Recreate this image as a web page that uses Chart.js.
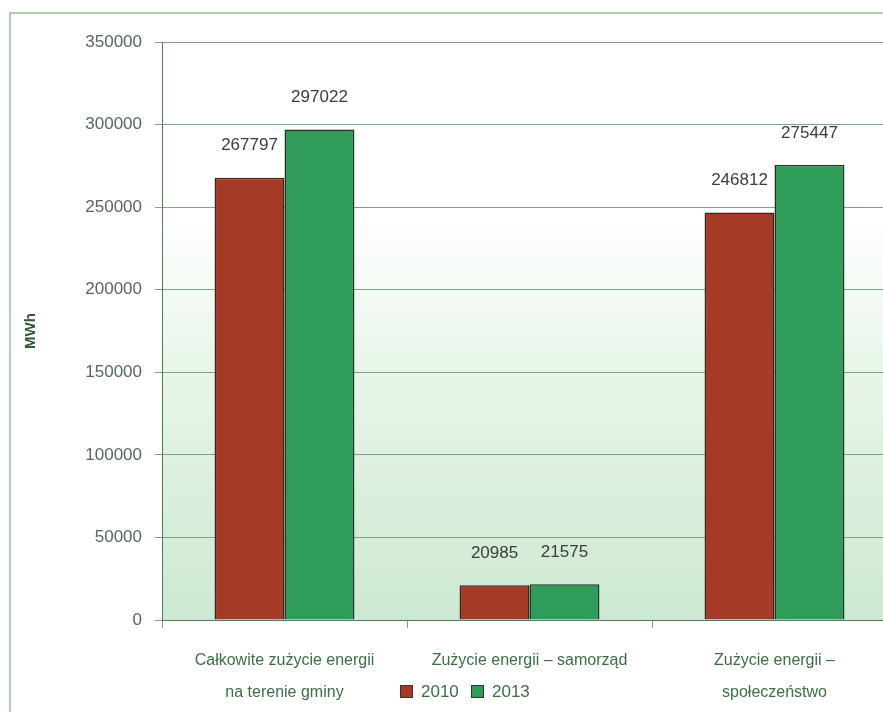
<!DOCTYPE html>
<html>
<head>
<meta charset="utf-8">
<script src="https://cdn.jsdelivr.net/npm/chart.js@4.4.1/dist/chart.umd.min.js"></script>
<style>
  html, body { margin: 0; padding: 0; background: #ffffff; overflow: hidden; }
  #wrap { width: 883px; height: 712px; overflow: hidden; position: relative; }
  #c { position: absolute; left: 0; top: 0; }
</style>
</head>
<body>
<div id="wrap"><canvas id="c" width="910" height="712"></canvas></div>
<script>
// Energy consumption (MWh) by area, 2010 vs 2013
const categories = [
  ["Całkowite zużycie energii", "na terenie gminy"],
  "Zużycie energii – samorząd",
  ["Zużycie energii –", "społeczeństwo"]
];
const seriesNames = ["2010", "2013"];
const values2010 = [267797, 20985, 246812];
const values2013 = [297022, 21575, 275447];
const yTicks = [0, 50000, 100000, 150000, 200000, 250000, 300000, 350000];

const FONT = "'Liberation Sans', Arial, sans-serif";
const RED = "#a53a27";
const GREEN = "#2f9c5a";
const TEXT = "#3b6e45";
const GRID = "#7fa283";

// Frame lines and plot-area gradient
const backdrop = {
  id: "backdrop",
  beforeDraw(chart) {
    const ctx = chart.ctx;
    const a = chart.chartArea;
    ctx.save();
    const g = ctx.createLinearGradient(0, a.top, 0, a.bottom);
    g.addColorStop(0, "#ffffff");
    g.addColorStop(0.3, "#ffffff");
    g.addColorStop(0.55, "#e9f6ea");
    g.addColorStop(1, "#cde8d2");
    ctx.fillStyle = g;
    ctx.fillRect(a.left, a.top, a.right - a.left, a.bottom - a.top);
    ctx.strokeStyle = "#9cc0a0";
    ctx.lineWidth = 1.5;
    ctx.beginPath();
    ctx.moveTo(10, 712);
    ctx.lineTo(10, 13);
    ctx.lineTo(chart.width, 13);
    ctx.stroke();
    ctx.restore();
  }
};

// Value labels above bars and the legend row
const annotate = {
  id: "annotate",
  afterDatasetsDraw(chart) {
    const ctx = chart.ctx;
    ctx.save();
    ctx.font = "17px " + FONT;
    ctx.fillStyle = "#3a3d3a";
    ctx.textAlign = "center";
    ctx.textBaseline = "middle";
    chart.data.datasets.forEach((ds, i) => {
      chart.getDatasetMeta(i).data.forEach((bar, j) => {
        ctx.fillText(String(ds.data[j]), bar.x, bar.y - 32);
      });
    });
    // legend
    const y = 691;
    let x = 400;
    ctx.font = "17px " + FONT;
    ctx.textAlign = "left";
    chart.data.datasets.forEach((ds) => {
      ctx.fillStyle = ds.backgroundColor;
      ctx.fillRect(x, y - 6, 13, 13);
      ctx.strokeStyle = "#333";
      ctx.lineWidth = 1;
      ctx.strokeRect(x + 0.5, y - 5.5, 12, 12);
      ctx.fillStyle = TEXT;
      ctx.fillText(ds.label, x + 21, y + 1);
      x += 71;
    });
    ctx.restore();
  }
};

new Chart(document.getElementById("c"), {
  type: "bar",
  data: {
    labels: categories,
    datasets: [
      { label: seriesNames[0], data: values2010, backgroundColor: RED, borderColor: "#2e2a22", borderWidth: 1.5 },
      { label: seriesNames[1], data: values2013, backgroundColor: GREEN, borderColor: "#263228", borderWidth: 1.5 }
    ]
  },
  options: {
    responsive: false,
    animation: false,
    layout: { padding: { left: 0, right: 13, top: 42, bottom: 0 } },
    plugins: {
      legend: { display: false },
      tooltip: { enabled: false }
    },
    datasets: { bar: { categoryPercentage: 0.571, barPercentage: 1 } },
    scales: {
      x: {
        afterFit(s) { s.height = 92; },
        grid: { display: true, offset: true, drawOnChartArea: false, drawTicks: true, tickLength: 8, color: GRID },
        border: { display: true, color: "#4f7a55", width: 1 },
        ticks: {
          color: TEXT,
          font: { family: FONT, size: 16, lineHeight: 2 },
          padding: 17,
          maxRotation: 0,
          autoSkip: false
        }
      },
      y: {
        min: 0,
        max: 350000,
        afterFit(s) { s.width = 162; },
        afterBuildTicks(s) { s.ticks = yTicks.map(v => ({ value: v })); },
        grid: { color: GRID, lineWidth: 1, drawTicks: true, tickLength: 7 },
        border: { display: true, color: "#4f7a55", width: 1 },
        ticks: {
          color: "#55685a",
          font: { family: FONT, size: 17 },
          padding: 13,
          callback: (v) => String(v)
        },
        title: {
          display: true,
          text: "MWh",
          color: "#2f5a3a",
          font: { family: FONT, size: 15, weight: "bold" },
          padding: { top: 22, bottom: 0 }
        }
      }
    }
  },
  plugins: [backdrop, annotate]
});
</script>
</body>
</html>
